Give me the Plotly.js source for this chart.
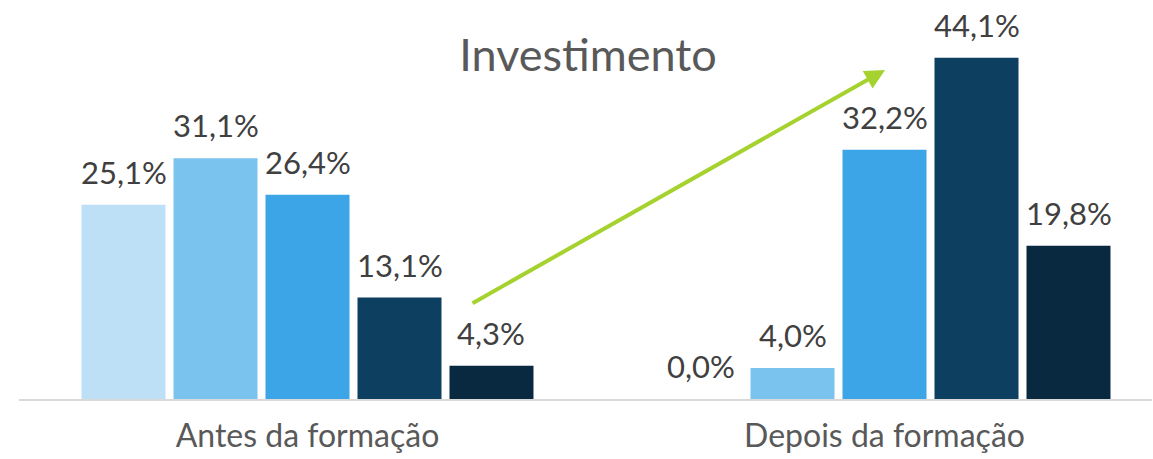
<!DOCTYPE html>
<html>
<head>
<meta charset="utf-8">
<script src="https://cdn.plot.ly/plotly-3.0.1.min.js"></script>
<style>html,body{margin:0;padding:0;background:#fff;}#chart{width:1153px;height:459px;}</style>
</head>
<body>
<div id="chart"></div>
<script>
const categories = ["Antes da formação", "Depois da formação"];
const seriesNames = ["Nível 1", "Nível 2", "Nível 3", "Nível 4", "Nível 5"];
const seriesValues = [
  [25.1, 0.0],
  [31.1, 4.0],
  [26.4, 32.2],
  [13.1, 44.1],
  [4.3, 19.8]
];
const seriesColors = ["#BDE0F7", "#7AC3EE", "#3BA5E7", "#0D3F60", "#082940"];
const titleText = "Investimento";

const fmt = v => v.toFixed(1).replace(".", ",") + "%";

const BARGAP = 0.2028;
const GROUPGAP = 0.087;
const nSeries = seriesValues.length;
const slot = (1 - BARGAP) / nSeries;

const traces = seriesValues.map((vals, i) => ({
  type: "bar",
  name: seriesNames[i],
  x: categories,
  y: vals,
  marker: {color: seriesColors[i], line: {width: 0}},
  hoverinfo: "skip"
}));

const labelAnnotations = [];
seriesValues.forEach((vals, i) => {
  vals.forEach((v, c) => {
    labelAnnotations.push({
      xref: "x", yref: "y",
      x: c + (i - (nSeries - 1) / 2) * slot,
      y: v,
      text: fmt(v),
      showarrow: false,
      xanchor: "center", yanchor: "bottom",
      yshift: 12,
      font: {family: "Lato, sans-serif", size: 31, color: "#404040"}
    });
  });
});

const layout = {
  width: 1153, height: 459,
  margin: {l: 19, r: 1, t: 0, b: 60},
  paper_bgcolor: "#ffffff", plot_bgcolor: "#ffffff",
  showlegend: false,
  barmode: "group",
  bargap: BARGAP,
  bargroupgap: GROUPGAP,
  title: {text: titleText, x: 0.51, xanchor: "center", y: 0.88, yanchor: "middle",
          font: {family: "Lato, sans-serif", size: 45, color: "#595959"}},
  xaxis: {
    type: "category",
    range: [-0.5, 1.4636],
    showline: true, linecolor: "#D9D9D9", linewidth: 2,
    ticks: "", showgrid: false, zeroline: false,
    tickfont: {family: "Lato, sans-serif", size: 32, color: "#595959"},
    ticklabelstandoff: 8
  },
  yaxis: {range: [0, 51.55], visible: false, showgrid: false, zeroline: false},
  annotations: labelAnnotations.concat([{
    xref: "paper", yref: "paper", x: 0.7644, y: 0.8246,
    axref: "pixel", ayref: "pixel", ax: -414, ay: 234,
    showarrow: true, text: "", arrowhead: 2, arrowsize: 1, arrowwidth: 4,
    arrowcolor: "#A5D22F", standoff: 0
  }])
};

Plotly.newPlot("chart", traces, layout, {staticPlot: true, displayModeBar: false});
</script>
</body>
</html>
